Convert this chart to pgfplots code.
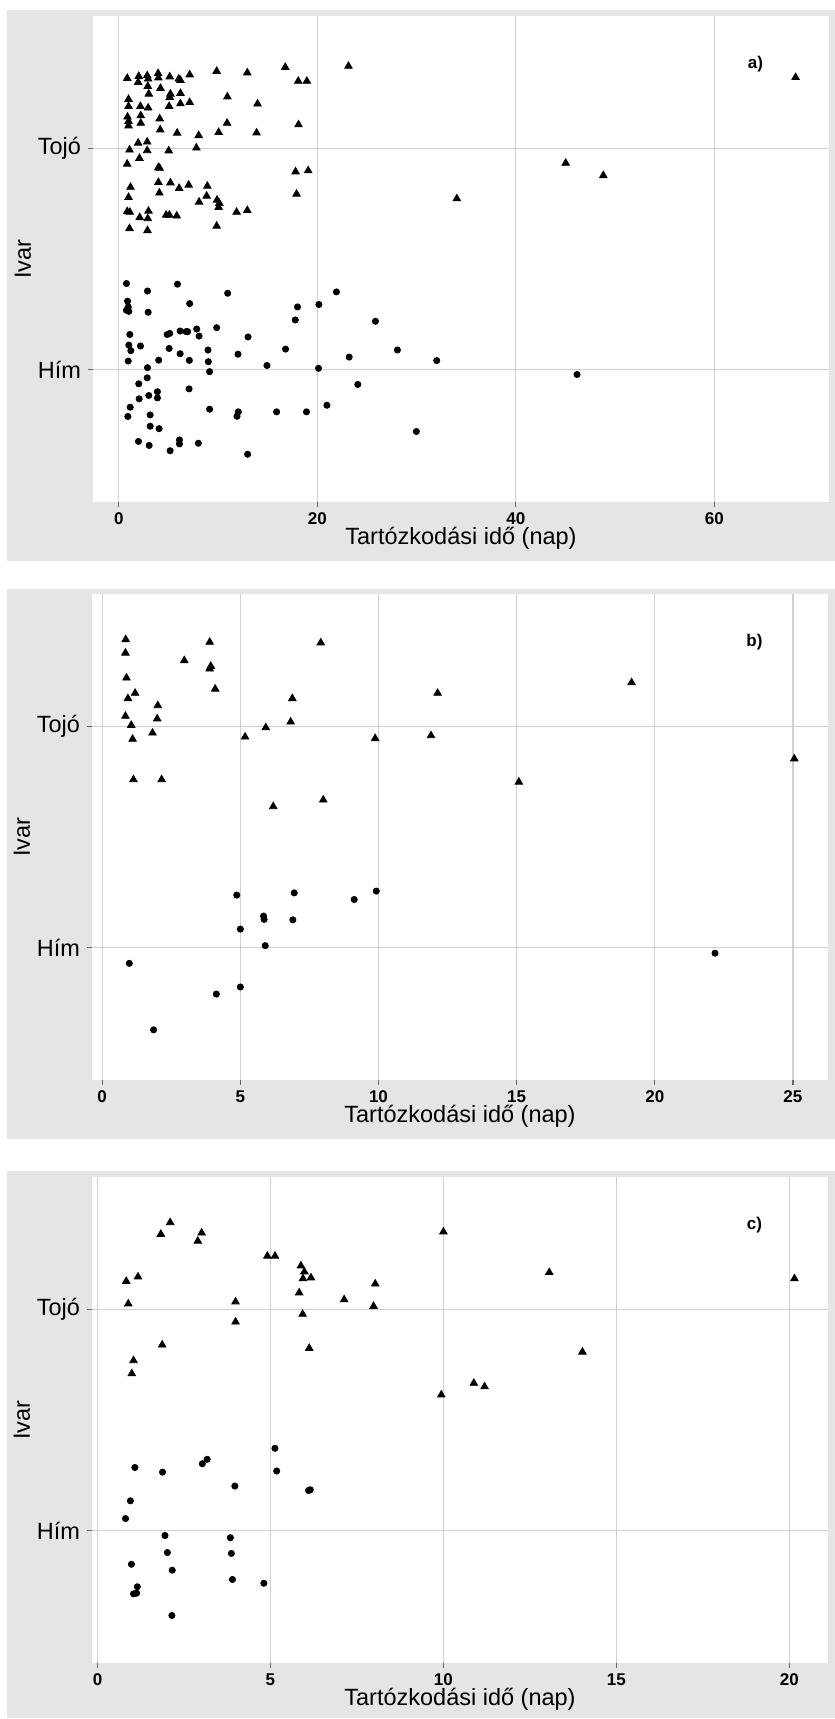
\documentclass[border=0pt]{standalone}
\usepackage{fontspec}
\setmainfont{Liberation Sans}
\usepackage{pgfplots}
\pgfplotsset{compat=1.18}
\definecolor{bgg}{RGB}{229,229,229}
\definecolor{gridc}{RGB}{208,208,208}
\pgfplotsset{
 myax/.style={
  scale only axis, width=368pt, height=243pt,
  anchor=south west,
  ymin=0.4, ymax=2.6, ytick={1,2}, yticklabels={Hím,Tojó},
  axis background/.style={fill=white},
  axis line style={draw=none},
  grid=major, major grid style={gridc, line width=0.65pt},
  tick align=outside, xtick pos=left, ytick pos=left,
  major tick length=2.5pt,
  tick style={black!60, line width=0.6pt},
  /pgf/number format/assume math mode=true,
  xticklabel style={font=\fontsize{8.5}{10}\selectfont\bfseries, inner sep=0pt, yshift=-2.6pt},
  yticklabel style={font=\fontsize{11.75}{14}\selectfont},
  xlabel={Tartózkodási idő (nap)}, ylabel={Ivar},
  xlabel style={font=\fontsize{11.75}{14}\selectfont, inner sep=0pt, at={(axis description cs:0.5,-0.0875)}, anchor=base},
  ylabel style={font=\fontsize{11.75}{14}\selectfont, at={(axis description cs:-0.0951,0.5)}, anchor=center, rotate=0},
 },
 tri/.style={only marks, mark=triangle*, mark size=2.15pt, black},
 dot/.style={only marks, mark=*, mark size=1.55pt, black},
}
\begin{document}
\begin{tikzpicture}
\path[use as bounding box, fill=white] (0,0) rectangle (417.5pt,859.5pt);
\fill[bgg] (3.5pt,579pt) rectangle (417.5pt,854.5pt);
\fill[bgg] (3.5pt,290pt) rectangle (417.5pt,565pt);
\fill[bgg] (3.5pt,0.5pt) rectangle (417.5pt,274pt);

% ---------- a) ----------
\begin{axis}[myax, at={(46.5pt,608.5pt)}, xmin=-2.6, xmax=71.56, xtick={0,20,40,60}]
\addplot[tri] coordinates {
(16.77,2.368) (23.14,2.373) (9.86,2.35) (12.95,2.343) (7.14,2.334) (0.85,2.318) (2.01,2.327) (2.86,2.330)
(3.96,2.340) (3.99,2.320) (5.13,2.325) (6.04,2.315) (6.21,2.309) (1.95,2.300) (2.96,2.315) (18.08,2.305)
(18.95,2.305) (2.92,2.282) (4.20,2.273) (3.02,2.247) (5.20,2.247) (5.13,2.232) (6.21,2.250) (10.94,2.234)
(0.98,2.223) (0.98,2.191) (2.18,2.191) (2.96,2.184) (5.07,2.191) (6.21,2.203) (7.14,2.209) (13.98,2.202)
(0.88,2.143) (0.98,2.123) (0.98,2.103) (2.21,2.149) (2.21,2.115) (4.12,2.135) (10.91,2.115) (18.11,2.108)
(4.17,2.085) (5.88,2.070) (8.05,2.059) (10.06,2.073) (13.88,2.071) (1.95,2.025) (2.86,2.030) (1.08,1.994)
(2.86,1.991) (5.03,1.990) (7.82,2.003) (2.08,1.956) (0.85,1.930) (3.99,1.914) (4.12,1.911) (17.81,1.895)
(19.08,1.900) (1.18,1.825) (3.99,1.847) (5.20,1.845) (6.08,1.820) (7.04,1.835) (8.92,1.830) (0.98,1.779)
(4.09,1.799) (8.09,1.758) (8.85,1.785) (9.90,1.767) (10.13,1.752) (10.06,1.734) (17.91,1.794) (0.85,1.715)
(1.11,1.712) (2.11,1.688) (2.99,1.717) (2.92,1.683) (4.77,1.699) (5.10,1.699) (5.84,1.695) (11.87,1.712)
(12.95,1.720) (1.08,1.638) (2.89,1.629) (9.86,1.649) (68.19,2.322) (45.03,1.934) (48.82,1.878) (34.06,1.773)
};
\addplot[dot] coordinates {
(0.77,1.389) (2.89,1.355) (5.91,1.386) (10.97,1.345) (21.93,1.351) (0.88,1.309) (0.95,1.283) (1.01,1.263)
(0.77,1.268) (2.96,1.259) (7.14,1.298) (18.01,1.283) (20.16,1.294) (17.78,1.224) (25.86,1.218) (1.11,1.158)
(4.87,1.158) (5.13,1.163) (6.18,1.174) (6.78,1.171) (6.94,1.171) (7.85,1.183) (8.09,1.151) (9.86,1.189)
(13.02,1.147) (1.01,1.110) (1.21,1.085) (2.18,1.106) (5.07,1.095) (6.18,1.071) (8.99,1.088) (12.01,1.069)
(16.80,1.092) (28.07,1.088) (0.95,1.038) (4.02,1.042) (7.11,1.041) (9.02,1.035) (14.93,1.018) (23.21,1.056)
(2.89,1.008) (9.15,0.990) (20.12,1.005) (2.86,0.962) (2.01,0.935) (7.08,0.912) (24.08,0.932) (3.02,0.882)
(2.05,0.867) (3.89,0.899) (3.89,0.871) (1.15,0.829) (0.91,0.787) (3.16,0.794) (9.15,0.820) (12.04,0.808)
(11.91,0.788) (15.90,0.808) (18.91,0.808) (20.97,0.838) (3.16,0.743) (4.06,0.732) (1.98,0.674) (3.06,0.656)
(5.17,0.632) (6.11,0.681) (6.11,0.663) (8.02,0.666) (12.98,0.616) (29.98,0.719) (32.03,1.040) (46.17,0.977)
};
\node[font=\fontsize{8.5}{10}\selectfont\bfseries] at (rel axis cs:0.9,0.9) {a)};
\end{axis}

% ---------- b) ----------
\begin{axis}[myax, at={(46pt,319.5pt)}, xmin=-0.37, xmax=26.27, xtick={0,5,10,15,20,25}]
\addplot[tri] coordinates {
(0.85,2.394) (0.84,2.333) (3.89,2.382) (2.97,2.299) (3.93,2.273) (3.89,2.261) (7.91,2.379) (0.88,2.220)
(4.09,2.170) (1.19,2.151) (0.93,2.127) (6.88,2.127) (2.01,2.095) (0.84,2.047) (1.99,2.035) (6.82,2.021)
(1.05,2.006) (5.92,1.995) (1.82,1.971) (1.10,1.943) (5.17,1.953) (9.88,1.946) (1.13,1.760) (2.15,1.760)
(6.19,1.638) (8.00,1.668) (12.14,2.151) (11.90,1.959) (19.16,2.199) (15.08,1.749) (25.05,1.854)
};
\addplot[dot] coordinates {
(4.87,1.237) (6.95,1.247) (9.92,1.255) (9.12,1.217) (5.84,1.142) (5.86,1.127) (6.90,1.125) (5.00,1.083)
(5.90,1.008) (0.98,0.928) (5.00,0.821) (4.13,0.789) (1.86,0.627) (22.18,0.974)
};
\node[font=\fontsize{8.5}{10}\selectfont\bfseries] at (rel axis cs:0.9,0.9) {b)};
\end{axis}

% ---------- c) ----------
\begin{axis}[myax, at={(46pt,28pt)}, xmin=-0.16, xmax=21.12, xtick={0,5,10,15,20}]
\addplot[tri] coordinates {
(2.10,2.394) (1.83,2.341) (3.01,2.347) (2.90,2.310) (4.91,2.242) (5.13,2.242) (5.88,2.198) (5.98,2.171)
(5.94,2.140) (6.17,2.144) (0.83,2.128) (1.17,2.148) (8.03,2.116) (5.83,2.076) (0.89,2.026) (3.99,2.035)
(7.13,2.045) (7.98,2.015) (5.93,1.979) (3.99,1.944) (1.87,1.840) (6.12,1.825) (1.04,1.769) (0.99,1.710)
(10.0,2.352) (13.06,2.168) (20.15,2.140) (14.02,1.808) (10.88,1.667) (11.19,1.651) (9.94,1.614)
};
\addplot[dot] coordinates {
(1.08,1.285) (1.88,1.264) (3.03,1.302) (3.17,1.322) (5.13,1.372) (5.18,1.269) (3.97,1.201) (6.10,1.181)
(6.15,1.184) (0.95,1.134) (0.81,1.054) (1.95,0.977) (3.84,0.967) (2.02,0.900) (3.87,0.896) (0.98,0.847)
(2.16,0.820) (3.90,0.778) (4.81,0.761) (1.15,0.745) (1.04,0.713) (1.13,0.716) (2.15,0.615)
};
\node[font=\fontsize{8.5}{10}\selectfont\bfseries] at (rel axis cs:0.9,0.9) {c)};
\end{axis}
\end{tikzpicture}
\end{document}
